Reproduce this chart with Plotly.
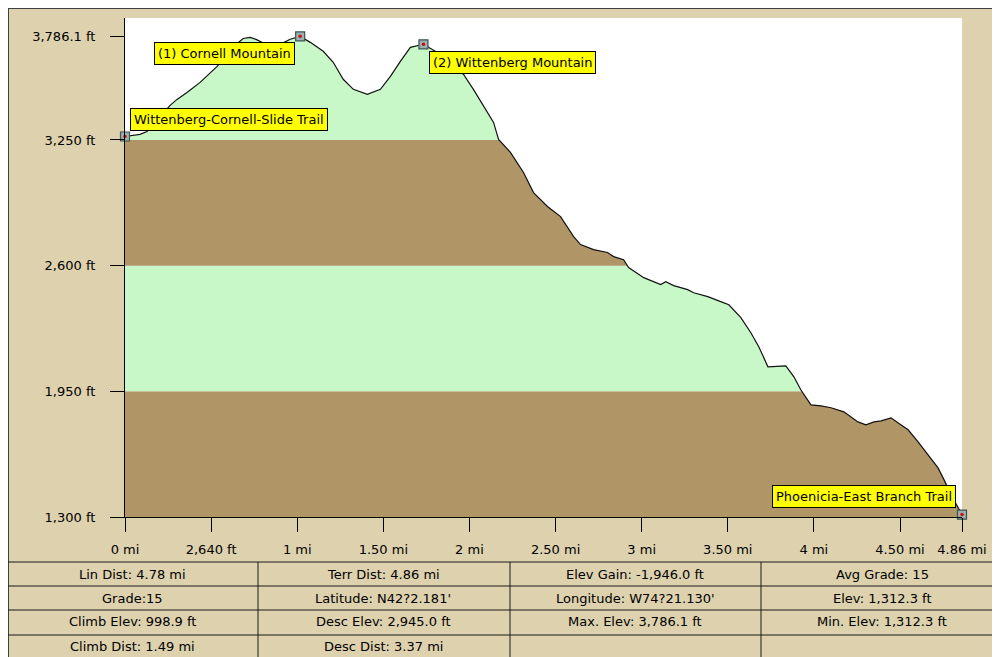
import plotly.graph_objects as go

# ---------------- data ----------------
miles = [0.000, 0.087, 0.128, 0.203, 0.262, 0.302, 0.360, 0.436, 0.535, 0.640,
         0.686, 0.727, 0.767, 0.831, 0.913, 0.959, 1.017, 1.076, 1.151, 1.209,
         1.267, 1.326, 1.407, 1.483, 1.541, 1.599, 1.657, 1.733, 1.831, 1.907,
         1.965, 2.023, 2.081, 2.140, 2.169, 2.238, 2.314, 2.372, 2.453, 2.529,
         2.605, 2.645, 2.721, 2.802, 2.837, 2.895, 2.924, 3.012, 3.110, 3.140,
         3.186, 3.267, 3.302, 3.384, 3.459, 3.506, 3.576, 3.634, 3.680, 3.733,
         3.837, 3.884, 3.924, 3.983, 4.041, 4.099, 4.174, 4.256, 4.302, 4.349,
         4.390, 4.448, 4.488, 4.547, 4.605, 4.663, 4.721, 4.756, 4.797, 4.860]
elev_ft = [3268, 3279, 3294, 3372, 3429, 3460, 3496, 3548, 3631, 3740,
           3775, 3781, 3768, 3738, 3750, 3771, 3786.1, 3755, 3709, 3652,
           3564, 3512, 3486, 3512, 3579, 3657, 3729, 3745, 3693, 3626,
           3590, 3512, 3424, 3341, 3253, 3186, 3082, 2978, 2906, 2854,
           2750, 2709, 2683, 2668, 2647, 2631, 2590, 2538, 2502, 2517,
           2497, 2476, 2460, 2440, 2414, 2398, 2331, 2253, 2181, 2077,
           2082, 2025, 1958, 1880, 1875, 1865, 1844, 1792, 1777, 1792,
           1797, 1813, 1787, 1751, 1689, 1621, 1554, 1492, 1414, 1312.3]

y_tickvals = [1300, 1950, 2600, 3250, 3786.1]
y_ticktext = ["1,300 ft", "1,950 ft", "2,600 ft", "3,250 ft", "3,786.1 ft"]
x_tickvals = [0, 0.5, 1, 1.5, 2, 2.5, 3, 3.5, 4, 4.5, 4.86]
x_ticktext = ["0 mi", "2,640 ft", "1 mi", "1.50 mi", "2 mi", "2.50 mi",
              "3 mi", "3.50 mi", "4 mi", "4.50 mi", "4.86 mi"]

band_bottoms = [1300, 1950, 2600, 3250]

wp_names = ["Wittenberg-Cornell-Slide Trail", "(1) Cornell Mountain",
            "(2) Wittenberg Mountain", "Phoenicia-East Branch Trail"]
wp_miles = [0.0, 1.017, 1.733, 4.86]
wp_elev = [3268, 3786.1, 3745, 1312.3]

table_rows = [
    ["Lin Dist: 4.78 mi", "Terr Dist: 4.86 mi", "Elev Gain: -1,946.0 ft", "Avg Grade: 15"],
    ["Grade:15", "Latitude: N42?2.181'", "Longitude: W74?21.130'", "Elev: 1,312.3 ft"],
    ["Climb Elev: 998.9 ft", "Desc Elev: 2,945.0 ft", "Max. Elev: 3,786.1 ft", "Min. Elev: 1,312.3 ft"],
    ["Climb Dist: 1.49 mi", "Desc Dist: 3.37 mi", "", ""],
]

# ---------------- style ----------------
OFF = 8                      # browser body margin
W, H = 1000 - OFF, 657 - OFF
# plot area in screen pixels
SL, SR, ST, SB = 125, 962, 18, 517
PL, PR, PT, PB = SL - OFF, SR - OFF, ST - OFF, SB - OFF
Y_TOP = 3881
X_MAX = 4.86
TAN = "#DDD1AE"
BROWN = "#B09566"
GREEN = "#C8F8C8"
FONT = "DejaVu Sans"
band_colors = [BROWN, GREEN, BROWN, GREEN]


def px(x):
    """screen x pixel -> paper coordinate"""
    return (x - OFF - PL) / (PR - PL)


def py(y):
    """screen y pixel -> paper coordinate"""
    return (PB - (y - OFF)) / (PB - PT)


fig = go.Figure()

# white area above the profile (covers the bands)
fig.add_trace(go.Scatter(x=miles, y=elev_ft, mode="lines", line=dict(width=0),
                         hoverinfo="skip", showlegend=False))
fig.add_trace(go.Scatter(x=miles, y=[Y_TOP] * len(miles), mode="lines",
                         line=dict(width=0), fill="tonexty", fillcolor="white",
                         hoverinfo="skip", showlegend=False))
# profile line
fig.add_trace(go.Scatter(x=miles, y=elev_ft, mode="lines",
                         line=dict(color="#111111", width=1.2),
                         showlegend=False))
# waypoint markers
fig.add_trace(go.Scatter(x=wp_miles, y=wp_elev, mode="markers",
                         marker=dict(symbol="square", size=9, color="#9DB0B0",
                                     line=dict(color="#3C5555", width=1.2)),
                         cliponaxis=False, showlegend=False))
fig.add_trace(go.Scatter(x=wp_miles, y=wp_elev, mode="markers",
                         marker=dict(symbol="circle", size=3.5, color="#CC1010"),
                         cliponaxis=False, showlegend=False))

shapes = []
# dark top/left frame of the panel
shapes.append(dict(type="line", xref="paper", yref="paper",
                   x0=px(OFF), x1=px(1002), y0=py(OFF), y1=py(OFF),
                   line=dict(color="#404040", width=2)))
shapes.append(dict(type="line", xref="paper", yref="paper",
                   x0=px(OFF), x1=px(OFF), y0=py(OFF), y1=py(660),
                   line=dict(color="#404040", width=2)))
# plot area white background
shapes.append(dict(type="rect", xref="paper", yref="paper", layer="below",
                   x0=0, x1=1, y0=0, y1=1, fillcolor="white", line=dict(width=0)))
# elevation bands
band_tops = band_bottoms[1:] + [Y_TOP]
for b0, b1, c in zip(band_bottoms, band_tops, band_colors):
    shapes.append(dict(type="rect", xref="x", yref="y", layer="below",
                       x0=0, x1=X_MAX, y0=b0, y1=b1, fillcolor=c,
                       line=dict(width=0)))

# table grid
row_lines = [562, 586, 610, 635]
col_lines = [258, 510, 761]
for ry in row_lines:
    shapes.append(dict(type="line", xref="paper", yref="paper",
                       x0=px(OFF), x1=px(1002), y0=py(ry), y1=py(ry),
                       line=dict(color="#1A1A1A", width=1)))
for cx in col_lines:
    shapes.append(dict(type="line", xref="paper", yref="paper",
                       x0=px(cx), x1=px(cx), y0=py(562), y1=py(660),
                       line=dict(color="#1A1A1A", width=1)))

annotations = []
row_centers = [574, 598, 622, 646]
col_centers = [132, 383, 635, 882]
for r, row in enumerate(table_rows):
    for c, txt in enumerate(row):
        if not txt:
            continue
        annotations.append(dict(xref="paper", yref="paper",
                                x=px(col_centers[c]), y=py(row_centers[r]),
                                text=txt, showarrow=False,
                                xanchor="center", yanchor="middle",
                                font=dict(family=FONT, size=13, color="black")))

# waypoint labels
lab_xanchor = ["left", "right", "left", "right"]
lab_yanchor = ["bottom", "top", "top", "bottom"]
lab_xshift = [5, -5, 6, -6]
lab_yshift = [6, -6, -7, 7]
for i, name in enumerate(wp_names):
    annotations.append(dict(x=wp_miles[i], y=wp_elev[i], xref="x", yref="y",
                            text=name, showarrow=False,
                            xanchor=lab_xanchor[i], yanchor=lab_yanchor[i],
                            xshift=lab_xshift[i], yshift=lab_yshift[i],
                            bgcolor="#FFFF00", bordercolor="black",
                            borderwidth=1, borderpad=3,
                            font=dict(family=FONT, size=13, color="black")))

fig.update_layout(
    width=W, height=H,
    margin=dict(l=PL, r=W - PR, t=PT, b=H - PB, pad=0),
    paper_bgcolor=TAN, plot_bgcolor="rgba(0,0,0,0)",
    shapes=shapes, annotations=annotations,
    showlegend=False,
    font=dict(family=FONT, size=13, color="black"),
)
fig.update_xaxes(range=[0, X_MAX], tickvals=x_tickvals, ticktext=x_ticktext,
                 ticks="outside", ticklen=14, tickcolor="black", tickwidth=1,
                 showline=True, linecolor="black", linewidth=1,
                 showgrid=False, zeroline=False, ticklabelstandoff=6,
                 tickfont=dict(family=FONT, size=13, color="black"))
fig.update_yaxes(range=[1300, Y_TOP], tickvals=y_tickvals, ticktext=y_ticktext,
                 ticks="outside", ticklen=14, tickcolor="black", tickwidth=1,
                 showline=True, linecolor="black", linewidth=1,
                 showgrid=False, zeroline=False, ticklabelstandoff=12,
                 tickfont=dict(family=FONT, size=13, color="black"))

fig.write_html("out.html", config={"displayModeBar": False})
